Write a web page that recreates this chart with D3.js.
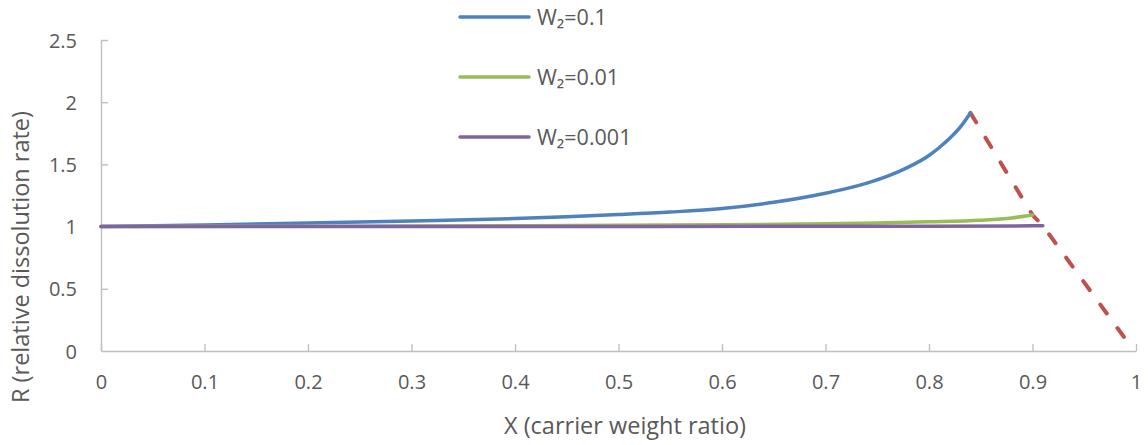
<!DOCTYPE html>
<html>
<head>
<meta charset="utf-8">
<script src="https://cdn.jsdelivr.net/npm/d3@7"></script>
<style>
  html, body { margin: 0; padding: 0; background: #fff; }
  svg { display: block; font-family: "Open Sans", "Liberation Sans", sans-serif; }
</style>
</head>
<body>
<svg id="chart" width="1148" height="445"></svg>
<script>
// ---- data ----
const seriesNames = ["W\u2082=0.1", "W\u2082=0.01", "W\u2082=0.001"];
const blueX = [0, 0.1, 0.2, 0.3, 0.4, 0.45, 0.5, 0.55, 0.6, 0.65, 0.7, 0.72, 0.74, 0.76, 0.78, 0.8, 0.81, 0.82, 0.83, 0.84];
const blueR = [1.0, 1.013, 1.028, 1.045, 1.065, 1.08, 1.097, 1.117, 1.145, 1.195, 1.268, 1.305, 1.35, 1.405, 1.478, 1.572, 1.636, 1.71, 1.798, 1.914];
const greenX = [0, 0.2, 0.4, 0.5, 0.6, 0.675, 0.7, 0.75, 0.8, 0.85, 0.88, 0.9];
const greenR = [1.0, 1.003, 1.007, 1.01, 1.015, 1.02, 1.022, 1.028, 1.038, 1.052, 1.07, 1.093];
const purpleX = [0, 0.5, 0.8, 0.9, 0.91];
const purpleR = [1.0, 1.001, 1.003, 1.006, 1.007];
const limitX = [0.84, 0.9, 0.91, 0.99];
const limitR = [1.914, 1.093, 1.007, 0.094];
const xTicks = [0, 0.1, 0.2, 0.3, 0.4, 0.5, 0.6, 0.7, 0.8, 0.9, 1];
const yTicks = [0, 0.5, 1, 1.5, 2, 2.5];
const xTitle = "X (carrier weight ratio)";
const yTitle = "R (relative dissolution rate)";

// ---- chart ----
const svg = d3.select("#chart");
const x = d3.scaleLinear().domain([0, 1]).range([101, 1136]);
const y = d3.scaleLinear().domain([0, 2.5]).range([351, 40]);
const textColor = "#595959";
const axisColor = "#bfbfbf";

const fmt = d => String(d);

const gx = svg.append("g").attr("transform", "translate(0,351)")
  .call(d3.axisBottom(x).tickValues(xTicks).tickFormat(fmt).tickSize(-7).tickSizeOuter(0));
gx.selectAll("text").attr("y", 31).attr("dy", "0.35em");

const gy = svg.append("g").attr("transform", "translate(101,0)")
  .call(d3.axisLeft(y).tickValues(yTicks).tickFormat(fmt).tickSize(-7).tickSizeOuter(0));
gy.selectAll("text").attr("x", -24).attr("dy", "0.35em");

[gx, gy].forEach(g => {
  g.select(".domain").attr("stroke", axisColor).attr("stroke-width", 1.4);
  g.selectAll(".tick line").attr("stroke", axisColor).attr("stroke-width", 1.4);
  g.selectAll("text").attr("fill", textColor).style("font-size", "20px")
    .style("font-family", "'Open Sans', 'Liberation Sans', sans-serif");
});
gy.selectAll(".tick").filter(d => d === 0).select("line").remove();

// titles
svg.append("text").attr("x", 625).attr("y", 426).attr("dy", "0.35em")
  .attr("text-anchor", "middle").attr("fill", textColor).style("font-size", "23.5px").text(xTitle);
svg.append("text").attr("transform", "translate(21,257) rotate(-90)").attr("dy", "0.35em")
  .attr("text-anchor", "middle").attr("fill", textColor).style("font-size", "23.5px").text(yTitle);

const line = d3.line().x(d => x(d[0])).y(d => y(d[1])).curve(d3.curveMonotoneX);
const series = [
  { name: seriesNames[0], xs: blueX, rs: blueR, color: "#4f81bd" },
  { name: seriesNames[1], xs: greenX, rs: greenR, color: "#9bbb59" },
  { name: seriesNames[2], xs: purpleX, rs: purpleR, color: "#8064a2" }
];

// dashed limit line
svg.append("path")
  .datum(limitX.map((v, i) => [v, limitR[i]]))
  .attr("d", d3.line().x(d => x(d[0])).y(d => y(d[1])))
  .attr("fill", "none").attr("stroke", "#c0504d").attr("stroke-width", 4)
  .attr("stroke-dasharray", "11,18").attr("stroke-linecap", "round");

series.forEach(s => {
  svg.append("path")
    .datum(s.xs.map((v, i) => [v, s.rs[i]]))
    .attr("d", line)
    .attr("fill", "none").attr("stroke", s.color).attr("stroke-width", 3.5)
    .attr("stroke-linecap", "round");
});

// legend
const legY = [17, 77, 137];
series.forEach((s, i) => {
  svg.append("line").attr("x1", 460).attr("x2", 529).attr("y1", legY[i]).attr("y2", legY[i])
    .attr("stroke", s.color).attr("stroke-width", 3.5).attr("stroke-linecap", "round");
  svg.append("text").attr("x", 537).attr("y", legY[i]).attr("dy", "0.35em")
    .attr("fill", textColor).style("font-size", "21.5px").text(s.name);
});
</script>
</body>
</html>
